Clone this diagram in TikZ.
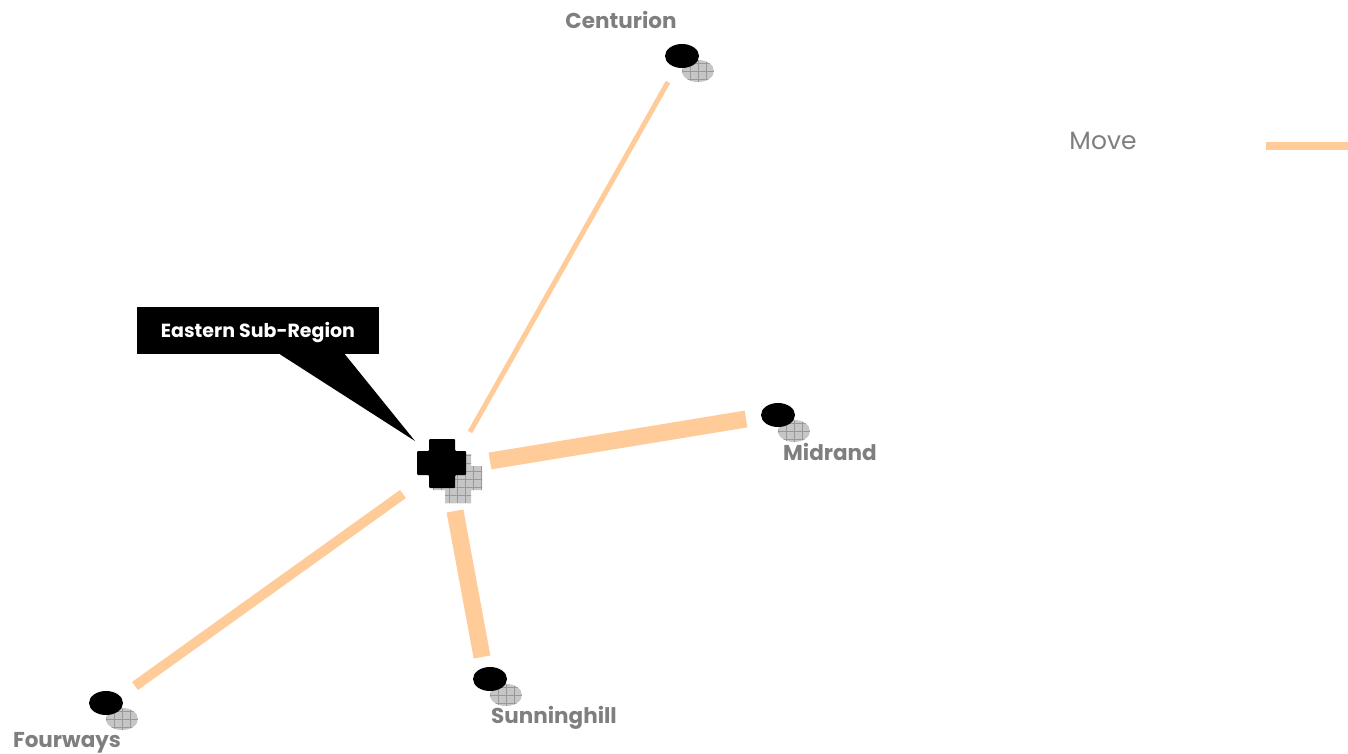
\documentclass[tikz,border=0pt]{standalone}
\usepackage{fontspec}
\setmainfont{Poppins}
\usetikzlibrary{shapes.geometric,calc}
\definecolor{peach}{HTML}{FFCC99}
\definecolor{labelgray}{HTML}{7F7F7F}
\definecolor{hatchfill}{HTML}{C6C6C6}
\definecolor{hatchline}{HTML}{999999}
\tikzset{
  site/.style={ellipse, fill=black, inner sep=0pt, minimum width=34pt, minimum height=24pt},
  shade site/.style={ellipse, fill=hatchfill, inner sep=0pt, minimum width=32pt, minimum height=22pt,
    path picture={\draw[hatchline, line width=0.5pt, step=8pt]
      (path picture bounding box.south west) grid (path picture bounding box.north east);}},
  place/.style={text=labelgray, font=\bfseries\fontsize{21.5}{24}\selectfont, inner sep=0pt},
  route/.style={draw=peach, line cap=butt},
  callout/.style={fill=black, minimum width=242pt, minimum height=47pt, inner sep=0pt},
  callout text/.style={text=white, font=\bfseries\fontsize{19}{22}\selectfont, inner sep=0pt}
}
\begin{document}
\begin{tikzpicture}[x=1pt,y=-1pt]
\useasboundingbox (0,0) rectangle (1348,754);

% outlying sites: hatched shadow under a black disc
\node[shade site] at (698,71) {};
\node[site] (cen) at (682,56) {};
\node[shade site] at (794,431) {};
\node[site] (mid) at (778,415) {};
\node[shade site] at (506,695) {};
\node[site] (sun) at (490,679) {};
\node[shade site] at (122,719) {};
\node[site] (four) at (106,703) {};

\node[place] (cenlab) at (621,20) {Centurion};
\node[place] (midlab) at (830,452) {Midrand};
\node[place] (sunlab) at (554,718) {Sunninghill};
\node[place] (fourlab) at (67,742.5) {Fourways};

% hub cross with its hatched shadow
\coordinate (hub) at (441,464);
\def\crosspath{(-12,-25) -- (14,-25) -- (14,-13) -- (25,-13) -- (25,11) -- (14,11) -- (14,24)
  -- (-12,24) -- (-12,11) -- (-24,11) -- (-24,-13) -- (-12,-13) -- cycle}
\begin{scope}[shift={(457,479)}]
  \fill[hatchfill] \crosspath;
  \clip \crosspath;
  \draw[hatchline, line width=0.5pt, step=8pt] (-30,-30) grid (30,30);
\end{scope}
\begin{scope}[shift={(hub)}]
  \fill[black, rounded corners=1pt] \crosspath;
\end{scope}

% route ends
\coordinate (h1) at (470,432); \coordinate (c1) at (668,82);
\coordinate (h2) at (490,461); \coordinate (m1) at (746,419);
\coordinate (h3) at (455,511); \coordinate (s1) at (482,657);
\coordinate (h4) at (403,494); \coordinate (f1) at (135,686);

\draw[route, line width=5pt] (h1) -- (c1);
\draw[route, line width=17pt] (h2) -- (m1);
\draw[route, line width=17pt] (h3) -- (s1);
\draw[route, line width=10pt] (h4) -- (f1);

% callout box with its pointer towards the hub
\node[callout] (box) at (258,330.5) {};
\node[callout text] (boxtext) at (258,333) {Eastern Sub-Region};
\coordinate (tip) at (415,441);
\fill[black] ($(box.south west)+(143,0)$) -- ($(box.south west)+(208,0)$) -- (tip) -- cycle;

% legend
\node[text=labelgray, font=\fontsize{25}{28}\selectfont, inner sep=0pt] (legtext) at (1103,141) {Move};
\coordinate (l1) at (1266,146); \coordinate (l2) at (1348,146);
\draw[route, line width=8pt] (l1) -- (l2);
\end{tikzpicture}
\end{document}
